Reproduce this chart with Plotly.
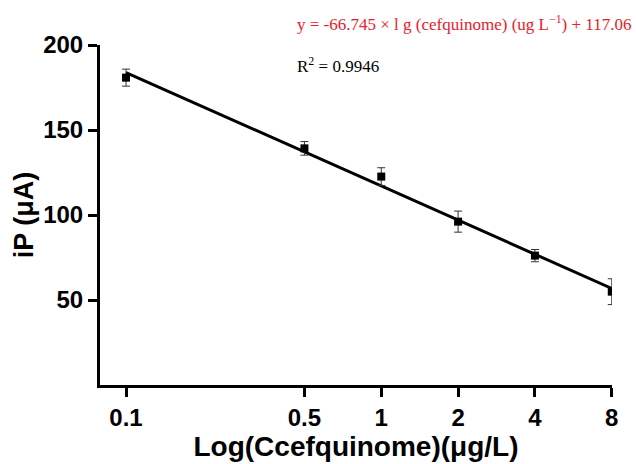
import plotly.graph_objects as go

# Data
conc = [0.1, 0.5, 1, 2, 4, 8]
ip_mean = [180.8, 139.2, 122.6, 96.1, 76.1, 54.9]
ip_err = [5.0, 4.0, 5.2, 6.2, 3.6, 7.6]

fit_x = [0.1, 8]
fit_y = [183.8, 56.8]

x_tick_vals = [0.1, 0.5, 1, 2, 4, 8]
x_tick_text = ["0.1", "0.5", "1", "2", "4", "8"]
y_tick_vals = [50, 100, 150, 200]

eq_text = "y = -66.745 × l g (cefquinome) (ug L<sup>−1</sup>) + 117.06"
r2_text = "R<sup>2</sup> = 0.9946"

fig = go.Figure()

fig.add_trace(go.Scatter(
    x=fit_x, y=fit_y, mode="lines",
    line=dict(color="black", width=3),
    showlegend=False, hoverinfo="skip",
))

fig.add_trace(go.Scatter(
    x=conc, y=ip_mean, mode="markers",
    marker=dict(symbol="square", size=8, color="black"),
    error_y=dict(type="data", array=ip_err, visible=True,
                 color="#333333", thickness=1, width=4),
    showlegend=False,
))

sans = "Liberation Sans, Arial, sans-serif"
serif = "Liberation Serif, Times New Roman, serif"

fig.update_layout(
    width=636, height=464,
    margin=dict(l=100, r=24, t=45, b=79),
    paper_bgcolor="white", plot_bgcolor="white",
    xaxis=dict(
        type="log", range=[-1.102, 0.904],
        tickvals=x_tick_vals, ticktext=x_tick_text,
        showline=True, linecolor="black", linewidth=3,
        ticks="outside", ticklen=9, tickwidth=3, tickcolor="black",
        showgrid=False, zeroline=False,
        tickfont=dict(family=sans, size=24, color="black", weight="bold"),
        title=dict(text="Log(Ccefquinome)(μg/L)", standoff=3,
                   font=dict(family=sans, size=28, color="black", weight="bold")),
    ),
    yaxis=dict(
        range=[0, 200],
        tickvals=y_tick_vals,
        showline=True, linecolor="black", linewidth=3,
        ticks="outside", ticklen=9, tickwidth=3, tickcolor="black",
        showgrid=False, zeroline=False,
        tickfont=dict(family=sans, size=24, color="black", weight="bold"),
        title=dict(text="iP (μA)", standoff=2,
                   font=dict(family=sans, size=27, color="black", weight="bold")),
    ),
    annotations=[
        dict(text=eq_text, xref="paper", yref="paper",
             x=(295 - 100) / 512, y=(464 - 79 - 23) / 340, xanchor="left", yanchor="middle",
             showarrow=False, font=dict(family=serif, size=17, color="#e8202a")),
        dict(text=r2_text, xref="paper", yref="paper",
             x=(295 - 100) / 512, y=(464 - 79 - 65) / 340, xanchor="left", yanchor="middle",
             showarrow=False, font=dict(family=serif, size=17, color="black")),
    ],
)

fig.write_html("out.html")
